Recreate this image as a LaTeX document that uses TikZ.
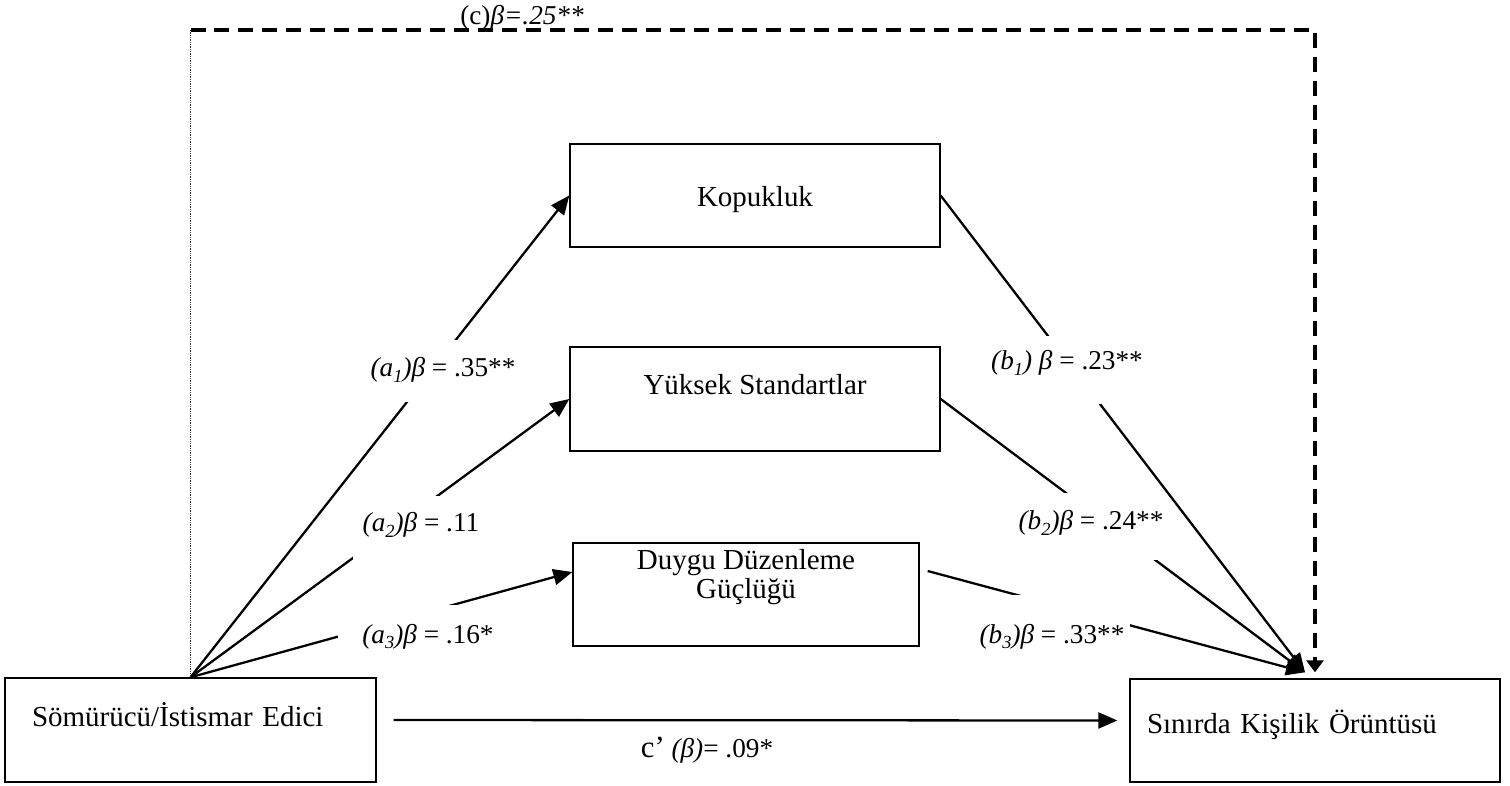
\documentclass[tikz,border=0pt]{standalone}
\usepackage{fontspec}
\setmainfont{Liberation Serif}
\usetikzlibrary{arrows.meta}
\newcommand{\low}[1]{\raisebox{-0.45ex}{\fontsize{10.5}{10.5}\selectfont #1}}

\begin{document}
\begin{tikzpicture}[x=0.02cm, y=-0.02cm,
  box/.style={draw, line width=0.8pt, inner sep=0pt, font=\fontsize{16.5}{14.8}\selectfont},
  effect/.style={line width=1.3pt, -{Triangle[length=0.38cm, width=0.32cm]}},
  coef/.style={fill=white, inner ysep=0pt, inner xsep=0.04cm, anchor=base, font=\fontsize{15.5}{15}\selectfont},
  total/.style={line width=1.8pt, dash pattern=on 0.3cm off 0.18cm, -{Triangle[length=0.24cm, width=0.34cm]}}]
  \useasboundingbox (0,0) rectangle (1510,786);

  \node[box, minimum width=7.42cm, text width=6.34cm, inner xsep=0.54cm, align=left, text height=0.96cm, text depth=1.12cm] (src) at (190.5,730) {Sömürücü/İstismar Edici};
  \node[box, minimum width=7.4cm, text width=6.72cm, inner xsep=0.34cm, align=left, text height=1.08cm, text depth=0.98cm] (snr) at (1315,730.5) {Sınırda Kişilik Örüntüsü};
  \node[box, minimum width=7.4cm, text height=1.26cm, text depth=0.8cm] (kop) at (755,195.5) {Kopukluk};
  \node[box, minimum width=7.4cm, text height=0.96cm, text depth=1.12cm] (yuk) at (755,399) {Yüksek Standartlar};
  \node[box, minimum width=6.92cm, align=center, text height=1.1cm, text depth=0.96cm] (duy) at (746,594.5) {Duygu Düzenleme\\Güçlüğü};

  \coordinate (cl) at (190.5,30);
  \coordinate (cr) at (1315,30);
  \coordinate (bt) at ([xshift=-0.2cm, yshift=0.12cm]snr.north);
  \coordinate (dw) at ([yshift=0.45cm]duy.west);
  \coordinate (de) at ([xshift=0.16cm, yshift=0.47cm]duy.east);

  % indirect paths
  \draw[effect] (src.north) -- (kop.west);
  \draw[effect] (src.north) -- (yuk.west);
  \draw[effect] (src.north) -- (dw);
  \draw[effect] (kop.east) -- (bt);
  \draw[effect] (yuk.east) -- (bt);
  \draw[effect] (de) -- (bt);

  % direct and total effect
  \draw[effect, shorten <=0.34cm, shorten >=0.24cm] ([yshift=0.2cm]src.east) -- ([yshift=0.2cm]snr.west);
  \draw[line width=0.4pt, black!80, dash pattern=on 0.5pt off 0.5pt] (src.north) -- (cl);
  \draw[total] (cl) -- (cr) -- ([yshift=0.12cm]snr.north);

  \node[coef, text height=0.74cm, text depth=0.5cm] (la1) at (443,377) {\textit{(a\low{1})β} = .35**};
  \node[coef, text height=0.72cm, text depth=0.64cm, inner xsep=0.2cm] (la2) at (421,532) {\textit{(a\low{2})β} = .11};
  \node[coef, text height=0.76cm, text depth=0.22cm, inner xsep=0.48cm] (la3) at (428,643) {\textit{(a\low{3})β} = .16*};
  \node[coef, text height=0.68cm, text depth=0.68cm] (lb1) at (1067,370) {\textit{(b\low{1}) β} = .23**};
  \node[coef, text height=0.74cm, text depth=0.6cm] (lb2) at (1091,530) {\textit{(b\low{2})β} = .24**};
  \node[coef, text height=0.96cm, text depth=0.22cm, inner xsep=0.12cm] (lb3) at (1052,643) {\textit{(b\low{3})β} = .33**};
  \node[anchor=base, font=\fontsize{15.5}{15}\selectfont] (lc) at (522,25) {(c)\textit{β=.25**}};
  \node[anchor=base, font=\fontsize{15.5}{15}\selectfont] (lcp) at (707,757) {{\fontsize{17.5}{15}\selectfont c’} \textit{(β)}= .09*};
\end{tikzpicture}
\end{document}
